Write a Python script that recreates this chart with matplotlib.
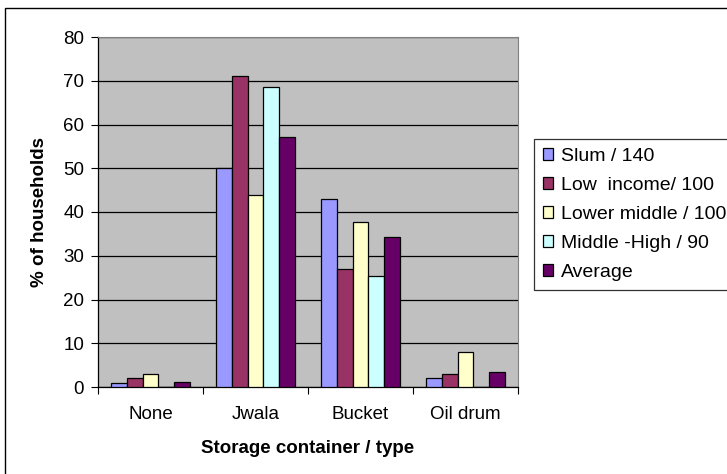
import numpy as np
import matplotlib.pyplot as plt
from matplotlib.patches import Rectangle

plt.rcParams['font.family'] = ['Liberation Sans', 'DejaVu Sans']

categories = ["None", "Jwala", "Bucket", "Oil drum"]
series_names = ["Slum / 140", "Low  income/ 100", "Lower middle / 100",
                "Middle -High / 90", "Average"]
slum = [1.0, 50.0, 43.0, 2.0]
low_income = [2.0, 71.0, 27.0, 3.0]
lower_middle = [3.0, 44.0, 37.7, 8.0]
middle_high = [0.0, 68.6, 25.4, 0.0]
average = [1.2, 57.2, 34.3, 3.5]
series = [slum, low_income, lower_middle, middle_high, average]
colors = ["#9999FF", "#993366", "#FFFFCC", "#CCFFFF", "#660066"]

fig = plt.figure(figsize=(7.27, 4.74), dpi=100)
ax = fig.add_axes([98 / 727, 87 / 474, 420 / 727, 350 / 474])
ax.set_facecolor("#C0C0C0")

# outer chart frame (clipped at right and bottom like the source)
fig.patches.append(Rectangle((5 / 727, -0.1), 1.2, (474 - 8) / 474 + 0.1,
                             transform=fig.transFigure, fill=False,
                             edgecolor="black", linewidth=1.0))

x = np.arange(len(categories))
width = 0.152
for i, (vals, name, col) in enumerate(zip(series, series_names, colors)):
    offs = (i - 2) * width
    ax.bar(x + offs, vals, width, color=col, edgecolor="black",
           linewidth=0.9, label=name, zorder=3)

ax.set_xlim(-0.5, 3.5)
ax.set_ylim(0, 80)
ax.set_yticks(range(0, 81, 10))
ax.yaxis.grid(True, color="black", linewidth=0.9, zorder=1)
ax.set_axisbelow(True)

ax.set_xticks(x)
ax.set_xticklabels(categories, fontsize=13.5)
ax.set_xticks(np.arange(-0.5, 3.6, 1), minor=True)
ax.tick_params(axis="x", which="major", length=0, pad=14)
ax.tick_params(axis="x", which="minor", length=5, width=0.8, direction="out")
ax.tick_params(axis="y", length=5, width=0.8, labelsize=13.5, pad=5)

for s in ["top", "right"]:
    ax.spines[s].set_color("#808080")
    ax.spines[s].set_linewidth(0.8)
ax.spines["left"].set_linewidth(0.9)
ax.spines["bottom"].set_linewidth(0.9)

ax.set_ylabel("% of households", fontsize=13.5, fontweight="bold", labelpad=11)
ax.set_xlabel("Storage container / type", fontsize=13.5, fontweight="bold",
              labelpad=12)

leg = ax.legend(loc="upper left", bbox_to_anchor=(534 / 727, 335 / 474),
                bbox_transform=fig.transFigure, fontsize=14, frameon=True,
                fancybox=False, edgecolor="black", handlelength=0.55,
                handleheight=0.55, handletextpad=0.4, labelspacing=0.62,
                borderpad=0.45, borderaxespad=0)
leg.get_frame().set_linewidth(0.9)

fig.savefig("out.png", dpi=100)
